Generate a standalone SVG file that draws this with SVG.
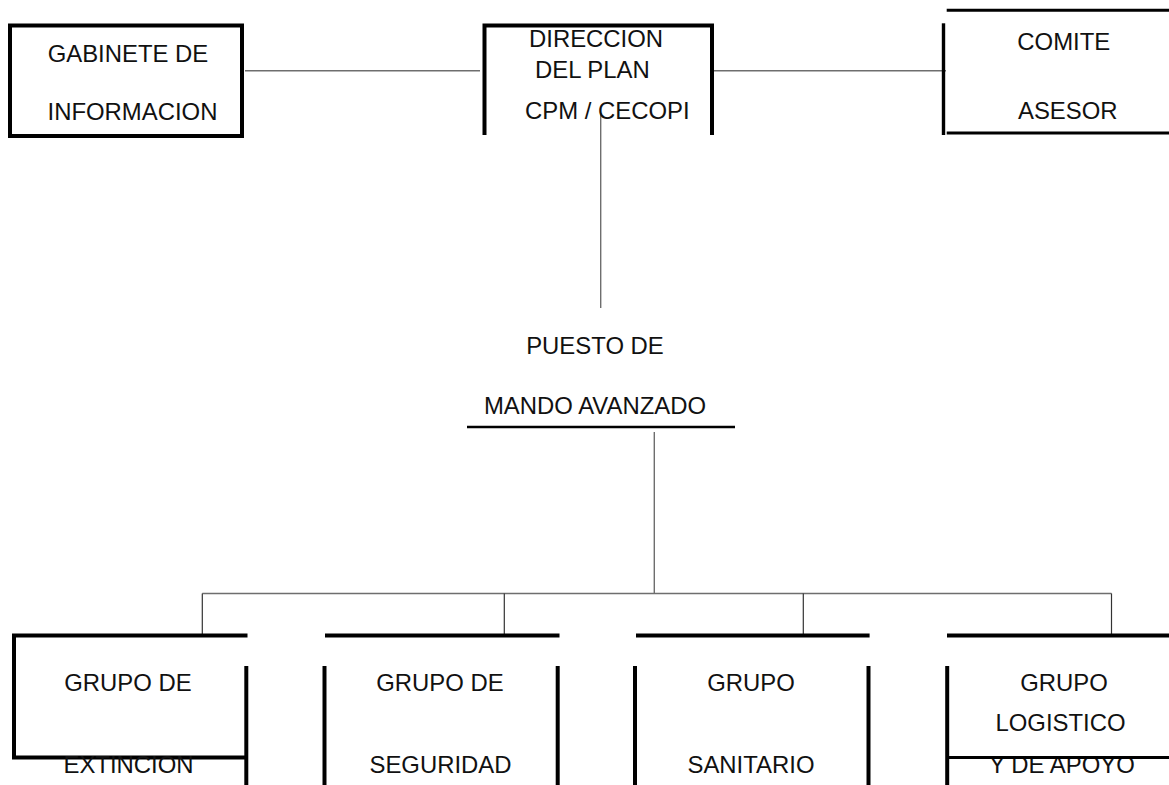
<svg xmlns="http://www.w3.org/2000/svg" width="1169" height="785" viewBox="0 0 1169 785">
  <style>
    .t { font-family: "Liberation Sans", Arial, sans-serif; font-size: 23.9px; fill: #111; }
    .box { fill: none; stroke: #000; stroke-width: 4; }
    .bar { fill: none; stroke: #000; stroke-width: 3; }
    .conn { fill: none; stroke: #6e6e6e; stroke-width: 1.4; }
    .drop { fill: none; stroke: #333; stroke-width: 1.2; }
  </style>
  <rect width="1169" height="785" fill="#fff"/>

  <!-- connectors -->
  <g id="connectors">
    <line class="conn" x1="245" y1="70.7" x2="480" y2="70.7"/>
    <line class="conn" x1="714" y1="70.7" x2="946" y2="70.7"/>
    <line class="conn" x1="600.7" y1="113" x2="600.7" y2="308"/>
    <line class="conn" x1="654.3" y1="432" x2="654.3" y2="593.5"/>
    <line class="conn" x1="202.3" y1="593.5" x2="1111.5" y2="593.5"/>
    <line class="drop" x1="202.3" y1="593.5" x2="202.3" y2="635"/>
    <line class="drop" x1="504.3" y1="593.5" x2="504.3" y2="635"/>
    <line class="drop" x1="803.3" y1="593.5" x2="803.3" y2="635"/>
    <line class="drop" x1="1111.5" y1="593.5" x2="1111.5" y2="635"/>
  </g>

  <!-- top row -->
  <g id="gabinete">
    <rect class="box" x="10" y="25.5" width="232" height="110.5"/>
    <text class="t" x="128" y="62" text-anchor="middle">GABINETE DE</text>
    <text class="t" x="132.5" y="120" text-anchor="middle">INFORMACION</text>
  </g>

  <g id="direccion">
    <path class="box" d="M484.5,135 V25.5 H712 V135"/>
    <text class="t" x="529" y="46.7">DIRECCION</text>
    <text class="t" x="535" y="78.3">DEL PLAN</text>
    <text class="t" x="525" y="119.3">CPM / CECOPI</text>
  </g>

  <g id="comite">
    <line class="box" x1="943.5" y1="23.3" x2="943.5" y2="135" style="stroke-width:3.4"/>
    <line class="bar" x1="946.7" y1="10.3" x2="1169" y2="10.3"/>
    <line class="bar" x1="946.7" y1="133" x2="1169" y2="133"/>
    <text class="t" x="1017.3" y="50">COMITE</text>
    <text class="t" x="1018" y="119">ASESOR</text>
  </g>

  <!-- middle -->
  <g id="puesto">
    <text class="t" x="595" y="354" text-anchor="middle">PUESTO DE</text>
    <text class="t" x="595" y="414" text-anchor="middle">MANDO AVANZADO</text>
    <line class="bar" x1="467" y1="427" x2="735" y2="427" style="stroke-width:2.7"/>
  </g>

  <!-- bottom row -->
  <g id="extincion">
    <path class="box" d="M247.5,635.5 H14 V757.5 H245"/>
    <line class="box" x1="246.3" y1="666" x2="246.3" y2="785"/>
    <text class="t" x="128" y="690.7" text-anchor="middle">GRUPO DE</text>
    <text class="t" x="128.5" y="773" text-anchor="middle">EXTINCION</text>
  </g>

  <g id="seguridad">
    <line class="box" x1="325" y1="635.5" x2="559.5" y2="635.5"/>
    <line class="box" x1="324.5" y1="666" x2="324.5" y2="785"/>
    <line class="box" x1="557.7" y1="666" x2="557.7" y2="785"/>
    <text class="t" x="440" y="690.7" text-anchor="middle">GRUPO DE</text>
    <text class="t" x="440.5" y="772.7" text-anchor="middle">SEGURIDAD</text>
  </g>

  <g id="sanitario">
    <line class="box" x1="636" y1="635.5" x2="869.6" y2="635.5"/>
    <line class="box" x1="635" y1="666" x2="635" y2="785"/>
    <line class="box" x1="868.5" y1="666" x2="868.5" y2="785"/>
    <text class="t" x="751" y="690.7" text-anchor="middle">GRUPO</text>
    <text class="t" x="751" y="772.7" text-anchor="middle">SANITARIO</text>
  </g>

  <g id="logistico">
    <line class="box" x1="947" y1="635.5" x2="1169" y2="635.5"/>
    <line class="box" x1="947.2" y1="666" x2="947.2" y2="785"/>
    <text class="t" x="1064" y="690.7" text-anchor="middle">GRUPO</text>
    <text class="t" x="1060.5" y="731" text-anchor="middle">LOGISTICO</text>
    <text class="t" x="1062" y="772.7" text-anchor="middle">Y DE APOYO</text>
    <line class="bar" x1="949" y1="757.5" x2="1169" y2="757.5"/>
  </g>
</svg>
